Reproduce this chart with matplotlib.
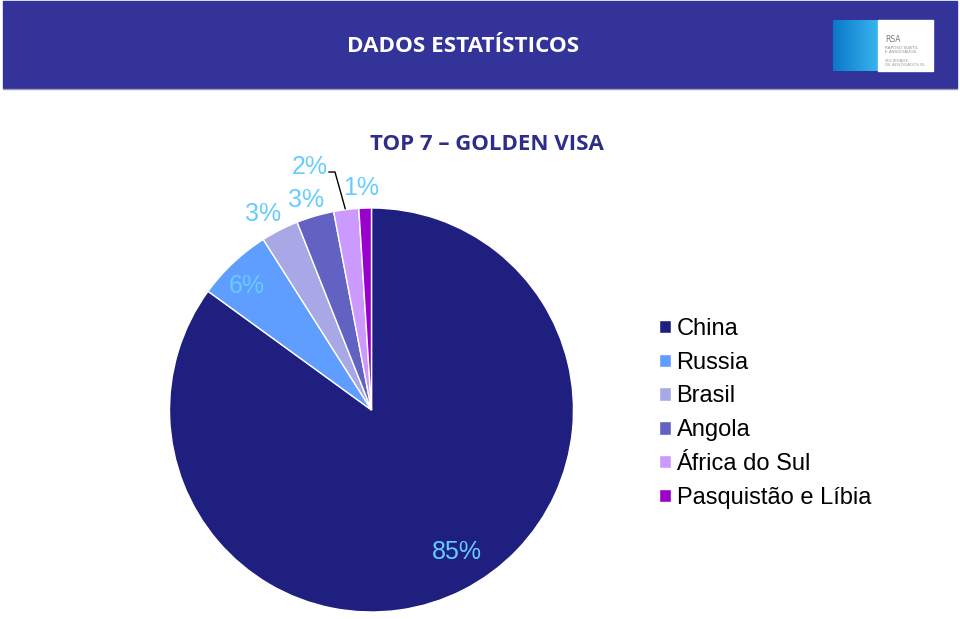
import numpy as np
import matplotlib
matplotlib.use("Agg")
import matplotlib.pyplot as plt
from matplotlib.patches import Rectangle

# chart data
countries = ["China", "Russia", "Brasil", "Angola", "África do Sul", "Pasquistão e Líbia"]
shares = [85, 6, 3, 3, 2, 1]
colors = ["#1f1f80", "#5f9dff", "#a8a8e6", "#6262c2", "#cc99ff", "#9900cc"]

header_title = "DADOS ESTATÍSTICOS"
chart_title = "TOP 7 \u2013 GOLDEN VISA"

W, H = 960, 619
BAND = "#333399"
LABEL_COLOR = "#66ccff"

# label placement: radius as fraction of pie radius, angle nudge in degrees
label_r = [0.82, 0.87, 1.11, 1.09, 1.24, 1.10]
label_nudge = [4, 2, 2, 1, 7, 1]

fig = plt.figure(figsize=(W / 100, H / 100), dpi=100)
ax = fig.add_axes([0, 0, 1, 1])


def px(x, y):
    """Picture pixel coords (origin top-left) -> data coords."""
    return x, H - y


# header band
ax.add_patch(Rectangle(px(3, 88), 954, 87, color=BAND, zorder=1))
ax.plot([3, 957], [H - 88.5, H - 88.5], color="#9a9ab8", lw=1, zorder=1)
ax.text(*px(463, 47), header_title, color="white", fontsize=16.2, fontweight="bold",
        family="Open Sans", ha="center", va="center", zorder=3)

# logo placeholder
grad = np.linspace(0, 1, 64).reshape(1, -1)
ax.imshow(grad, extent=(833, 878, H - 71, H - 20), cmap=matplotlib.colors.LinearSegmentedColormap.from_list(
    "lg", ["#0a78c8", "#37b4ee"]), aspect="auto", zorder=2)
ax.add_patch(Rectangle(px(878, 71), 55, 51, color="white", zorder=2))
ax.text(*px(885, 39), "RSA", color="#7a7a7a", fontsize=5.5, ha="left", va="center", zorder=3)
ax.text(*px(885, 50), "RAPOSO SUBTIL\nE ASSOCIADOS", color="#8a8a8a", fontsize=3,
        ha="left", va="center", linespacing=1.1, zorder=3)
ax.text(*px(885, 63), "SOCIEDADE\nDE ADVOGADOS RL", color="#9a9a9a", fontsize=3,
        ha="left", va="center", linespacing=1.1, zorder=3)

# pie
cx, cy = px(371.5, 410)
R = 202
wedges, _ = ax.pie(shares, colors=colors, startangle=90, counterclock=False,
                   center=(cx, cy), radius=R,
                   wedgeprops=dict(edgecolor="white", linewidth=1))

for w, s, rf, dn in zip(wedges, shares, label_r, label_nudge):
    mid = np.deg2rad((w.theta1 + w.theta2) / 2 + dn)
    lx, ly = cx + rf * R * np.cos(mid), cy + rf * R * np.sin(mid)
    ax.text(lx, ly, f"{s}%", color=LABEL_COLOR, fontsize=18,
            family="Liberation Sans", ha="center", va="center", zorder=4)

# leader line for the small "África do Sul" slice
w = wedges[4]
mid = np.deg2rad((w.theta1 + w.theta2) / 2)
ex, ey = cx + R * np.cos(mid), cy + R * np.sin(mid)
ax.plot([329, 335, ex - 1], [H - 172, H - 172, ey + 1], color="black", lw=1, zorder=4)

ax.text(*px(487, 145), chart_title, color="#2e2e8a", fontsize=16, fontweight="bold",
        family="Open Sans", ha="center", va="center")

leg = ax.legend(wedges, countries, loc="upper left", bbox_to_anchor=(647 / W, 1 - 306 / H),
                frameon=False, prop=dict(family="Liberation Sans", size=17),
                handlelength=0.5, handleheight=0.5, handletextpad=0.25,
                labelspacing=0.5, borderpad=0)

ax.set_xlim(0, W)
ax.set_ylim(0, H)
ax.axis("off")

fig.savefig("out.png", dpi=100, facecolor="white")
